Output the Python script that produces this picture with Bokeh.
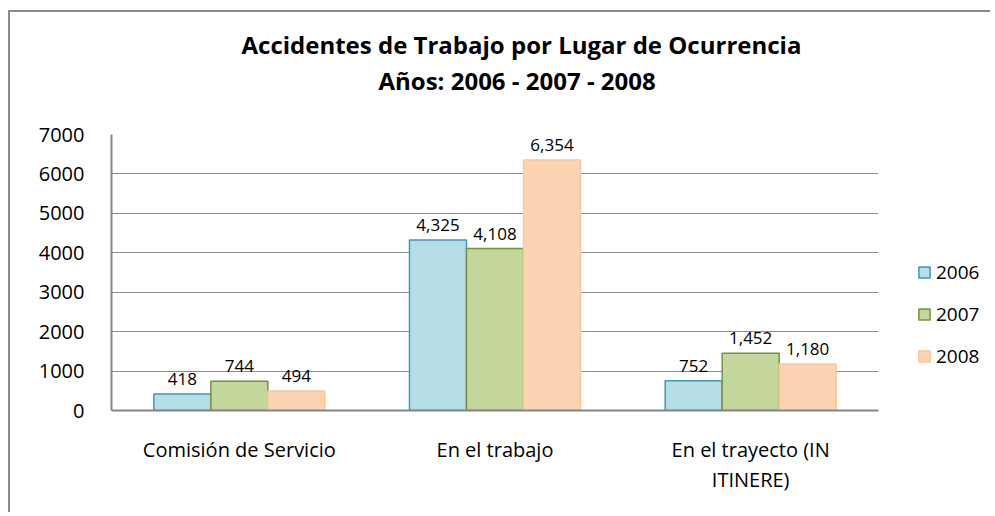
from bokeh.plotting import figure
from bokeh.layouts import row
from bokeh.models import (ColumnDataSource, FactorRange, Range1d, Legend, LegendItem, LabelSet,
                          Title, FixedTicker, CategoricalAxis, CustomJSTickFormatter)
from bokeh.core.properties import value
from bokeh.transform import dodge
from bokeh.embed import file_html
from bokeh.resources import INLINE

categories = ["Comisión de Servicio", "En el trabajo", "En el trayecto (IN ITINERE)"]
cat_line1 = ["Comisión de Servicio", "En el trabajo", "En el trayecto (IN"]
cat_line2 = ["", "", "ITINERE)"]
years = ["2006", "2007", "2008"]
v2006 = [418, 4325, 752]
v2007 = [744, 4108, 1452]
v2008 = [494, 6354, 1180]
y_ticks = [0, 1000, 2000, 3000, 4000, 5000, 6000, 7000]
title1 = "Accidentes de Trabajo por Lugar de Ocurrencia"
title2 = "Años: 2006 - 2007 - 2008"

fills = ["#B7DEE8", "#C3D69B", "#FBD4B4"]
lines = ["#4298B0", "#77933C", "#F9C59A"]
FONT = "Open Sans"

src = ColumnDataSource(dict(
    cat=categories,
    v2006=v2006, v2007=v2007, v2008=v2008,
    l2006=[f"{v:,}" for v in v2006],
    l2007=[f"{v:,}" for v in v2007],
    l2008=[f"{v:,}" for v in v2008],
))

W_MAIN, W_LEG, H = 878, 102, 500

p = figure(width=W_MAIN, height=H, x_range=FactorRange(*categories, range_padding=0),
           y_range=Range1d(0, 7000), output_backend="svg", toolbar_location=None,
           x_axis_location=None,
           min_border_left=101, min_border_right=10, min_border_top=122, min_border_bottom=102)

# spacer panel, then the two title lines
p.add_layout(Title(text=" ", text_font_size="1px", standoff=34), "above")
p.add_layout(Title(text=title2, align="left", offset=267, standoff=1, text_font=FONT,
                   text_font_size="24px", text_font_style="bold", text_color="black"), "above")
p.add_layout(Title(text=title1, align="left", offset=130, standoff=1, text_font=FONT,
                   text_font_size="24px", text_font_style="bold", text_color="black"), "above")

bw = 0.223
offs = [-bw, 0, bw]
for yr, off, fc, lc in zip(years, offs, fills, lines):
    p.vbar(x=dodge("cat", off, range=p.x_range), top="v" + yr, width=bw, source=src,
           fill_color=fc, line_color=lc, line_width=1.5)
    p.add_layout(LabelSet(x=dodge("cat", off, range=p.x_range), y="v" + yr, text="l" + yr, source=src,
                          text_align="center", text_baseline="alphabetic", y_offset=9,
                          text_font=value(FONT), text_font_size="17px", text_color="black"))

# category axis: two stacked axes give the two-line label of the third category
map1 = dict(zip(categories, cat_line1))
map2 = dict(zip(categories, cat_line2))
ax1 = CategoricalAxis(formatter=CustomJSTickFormatter(args=dict(m=map1), code="return m.get ? (m.get(tick) ?? tick) : (m[tick] ?? tick);"))
ax2 = CategoricalAxis(formatter=CustomJSTickFormatter(args=dict(m=map2), code="return m.get ? (m.get(tick) ?? '') : (m[tick] ?? '');"))
for ax in (ax1, ax2):
    ax.major_tick_line_color = None
    ax.minor_tick_line_color = None
    ax.major_label_text_font = FONT
    ax.major_label_text_font_size = "20px"
    ax.major_label_text_color = "black"
ax1.axis_line_color = "#868686"
ax1.axis_line_width = 2
ax1.major_label_standoff = 19
ax2.axis_line_color = None
ax2.major_label_standoff = -6
p.add_layout(ax1, "below")
p.add_layout(ax2, "below")

p.outline_line_color = None
p.xgrid.grid_line_color = None
p.ygrid.grid_line_color = "#8c8c8c"
p.ygrid.grid_line_width = 1
p.yaxis.ticker = FixedTicker(ticks=y_ticks)
p.yaxis.major_tick_line_color = None
p.yaxis.minor_tick_line_color = None
p.yaxis.axis_line_color = "#868686"
p.yaxis.axis_line_width = 2
p.yaxis.major_label_standoff = 21
p.yaxis.major_label_text_font = FONT
p.yaxis.major_label_text_font_size = "20px"
p.yaxis.major_label_text_color = "black"

# legend lives in a narrow companion figure to the right (its renderers are hidden)
lg = figure(width=W_LEG, height=H, x_range=FactorRange(*categories), y_range=Range1d(0, 7000),
            output_backend="svg", toolbar_location=None, x_axis_location=None, y_axis_location=None,
            min_border_left=0, min_border_right=0, min_border_top=0, min_border_bottom=0)
lg.outline_line_color = None
lg.grid.grid_line_color = None
items = []
for yr, off, fc, lc in zip(years, offs, fills, lines):
    r = lg.vbar(x=dodge("cat", off, range=lg.x_range), top="v" + yr, width=bw, source=src,
                fill_color=fc, line_color=lc, line_width=1.5, visible=False)
    items.append(LegendItem(label=yr, renderers=[r]))
legend = Legend(items=items, location=(29, 41), orientation="vertical", click_policy="none",
                glyph_width=14, glyph_height=14, label_height=20, spacing=16, label_standoff=5,
                padding=0, margin=0, border_line_color=None, background_fill_alpha=0,
                label_text_font=FONT, label_text_font_size="19px", label_text_color="black")
lg.add_layout(legend, "center")

layout = row(p, lg, spacing=0)
# outer chart border (only its top and left edges fall inside the cropped view)
layout.styles = {"border-top": "2px solid #8a8a8a", "border-left": "2px solid #8a8a8a",
                 "margin-left": "8px", "margin-top": "10px"}

open("out.html", "w").write(file_html(layout, INLINE))
